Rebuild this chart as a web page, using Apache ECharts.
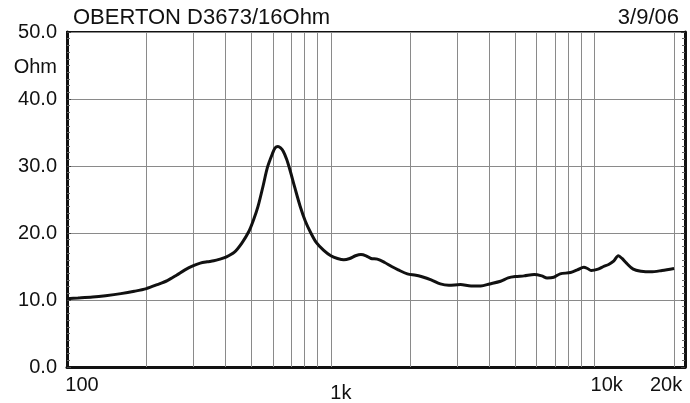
<!DOCTYPE html>
<html>
<head>
<meta charset="utf-8">
<script src="https://cdn.jsdelivr.net/npm/echarts@6/dist/echarts.min.js"></script>
<style>html,body{margin:0;padding:0;background:#fff;}#c{width:690px;height:403px;}</style>
</head>
<body>
<div id="c"></div>
<script>
const titleText = 'OBERTON D3673/16Ohm';
const dateText = '3/9/06';
const yUnit = 'Ohm';
const freqs = [100,110,125,140,160,180,200,220,240,260,280,300,320,340,360,380,400,430,460,490,510,530,555,575,600,615,630,645,660,680,700,730,765,800,840,880,940,1000,1060,1120,1180,1240,1300,1360,1420,1500,1600,1700,1800,1950,2100,2200,2400,2600,2800,3100,3400,3700,4000,4400,4700,5000,5400,5900,6300,6600,7000,7400,8100,8600,9100,9400,9700,10300,10800,11300,11800,12300,12700,13200,14000,15000,16300,18000,20000];
const ohms = [10.2,10.3,10.45,10.65,10.95,11.3,11.7,12.3,12.9,13.7,14.5,15.1,15.5,15.7,15.85,16.1,16.4,17.1,18.5,20.3,22.0,24.0,27.2,29.8,31.8,32.7,32.9,32.7,32.2,31.0,29.4,26.8,24.0,21.8,20.0,18.6,17.4,16.6,16.2,16.0,16.2,16.6,16.8,16.6,16.2,16.1,15.6,15.0,14.5,13.9,13.7,13.5,13.0,12.4,12.2,12.3,12.1,12.1,12.4,12.8,13.3,13.5,13.6,13.8,13.6,13.3,13.4,13.9,14.1,14.5,14.9,14.7,14.4,14.6,15.0,15.3,15.8,16.6,16.2,15.5,14.6,14.3,14.2,14.4,14.7];
const gridFreqs = [200,300,400,500,600,700,800,900,1000,2000,3000,4000,5000,6000,7000,8000,9000,10000,20000];
const xTickFreqs = [100,1000,10000,20000];
const xTickLabels = ['100','1k','10k','20k'];
const xMin = 100, xMax = 22000;
const yMin = 0, yMax = 50, yStep = 10;

const lg = Math.log10;
const labelStyle = ['a','b','c','d'];
const rich = {
  a: {fontSize: 20, color: '#111', fontFamily: 'Liberation Sans', padding: [0,0,0,30]},
  b: {fontSize: 20, color: '#111', fontFamily: 'Liberation Sans', padding: [8,0,0,20]},
  c: {fontSize: 20, color: '#111', fontFamily: 'Liberation Sans', padding: [0,0,0,24]},
  d: {fontSize: 20, color: '#111', fontFamily: 'Liberation Sans', padding: [0,16,0,0]}
};

const chart = echarts.init(document.getElementById('c'));
chart.setOption({
  animation: false,
  backgroundColor: '#fff',
  title: [
    {text: titleText, left: 68, top: 2, textStyle: {fontSize: 22, fontWeight: 'normal', color: '#111', fontFamily: 'Liberation Sans'}},
    {text: dateText, right: 6, top: 2, textStyle: {fontSize: 22, fontWeight: 'normal', color: '#111', fontFamily: 'Liberation Sans'}}
  ],
  grid: {left: 67, right: 5, top: 32, bottom: 30, show: true, borderColor: '#111', borderWidth: 2, backgroundColor: '#fff'},
  xAxis: {
    type: 'value', min: lg(xMin), max: lg(xMax),
    axisLine: {show: true, onZero: false, lineStyle: {color: '#111', width: 3}},
    axisTick: {show: false},
    splitLine: {show: false},
    axisLabel: {
      show: true, margin: 8,
      customValues: xTickFreqs.map(f => lg(f)),
      formatter: function (v) {
        let i = xTickFreqs.findIndex(f => Math.abs(lg(f) - v) < 1e-6);
        if (i < 0) return '';
        return '{' + labelStyle[i] + '|' + xTickLabels[i] + '}';
      },
      rich: rich
    }
  },
  yAxis: [
    {
      type: 'value', min: yMin, max: yMax, interval: yStep, position: 'left',
      name: yUnit, nameLocation: 'end', nameGap: -45,
      nameTextStyle: {fontSize: 20, color: '#111', fontFamily: 'Liberation Sans', align: 'right', padding: [0, 10, 0, 0]},
      axisLine: {show: true, lineStyle: {color: '#111', width: 3}},
      axisTick: {show: true, inside: true, length: 4, lineStyle: {color: '#444'}},
      minorTick: {show: true, splitNumber: 10, length: 3, lineStyle: {color: '#666'}},
      splitLine: {show: true, lineStyle: {color: '#8a8a8a', width: 1}},
      axisLabel: {fontSize: 20, color: '#111', fontFamily: 'Liberation Sans', margin: 10, formatter: v => v.toFixed(1)}
    },
    {
      type: 'value', min: yMin, max: yMax, interval: yStep, position: 'right',
      axisLine: {show: true, lineStyle: {color: '#111', width: 3}},
      axisTick: {show: true, inside: true, length: 4, lineStyle: {color: '#444'}},
      minorTick: {show: true, splitNumber: 10, length: 3, lineStyle: {color: '#666'}},
      splitLine: {show: false},
      axisLabel: {show: false}
    }
  ],
  series: [
    {
      type: 'line', data: [], z: 1, silent: true,
      markLine: {
        silent: true, symbol: ['none','none'], animation: false,
        label: {show: false},
        lineStyle: {color: '#8a8a8a', width: 1, type: 'solid'},
        emphasis: {disabled: true},
        data: gridFreqs.map(f => ({xAxis: lg(f)}))
      }
    },
    {
      type: 'line', z: 5, smooth: 0.3, showSymbol: false, symbol: 'none',
      lineStyle: {color: '#111', width: 3},
      data: freqs.map((f, i) => [lg(f), ohms[i]])
    }
  ]
});
</script>
</body>
</html>
